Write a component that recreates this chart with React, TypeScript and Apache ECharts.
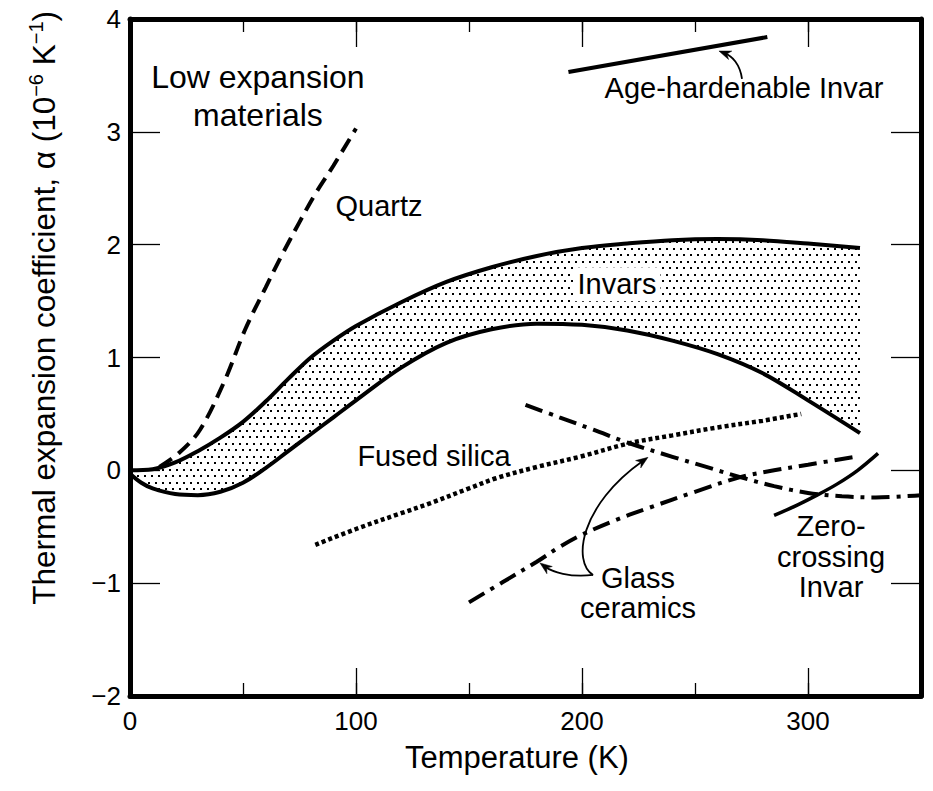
import React, { useEffect, useRef } from 'react';
import * as echarts from 'echarts';

const FONT = '"Liberation Sans", Arial, Helvetica, sans-serif';

// Invar band: upper and lower bounds (10^-6 K^-1) on their own temperature grids
const invarUpperK = [0, 10, 20, 30, 40, 50, 60, 70, 80, 90, 100, 120, 140, 160, 180, 200, 220, 240, 260, 280, 300, 323];
const invarUpperA = [0, 0.01, 0.07, 0.17, 0.29, 0.43, 0.61, 0.81, 1.0, 1.15, 1.28, 1.49, 1.67, 1.8, 1.9, 1.97, 2.01, 2.04, 2.05, 2.04, 2.01, 1.97];
const invarLowerK = [0, 5, 10, 20, 30, 40, 50, 60, 70, 80, 90, 100, 120, 140, 160, 180, 200, 220, 240, 260, 280, 300, 323];
const invarLowerA = [-0.03, -0.11, -0.16, -0.21, -0.22, -0.19, -0.11, 0.02, 0.17, 0.32, 0.47, 0.62, 0.91, 1.13, 1.25, 1.3, 1.29, 1.24, 1.15, 1.03, 0.86, 0.62, 0.33];

const quartzK = [13, 22, 31, 42, 51, 60, 67, 75, 82, 90, 100];
const quartzA = [0.03, 0.16, 0.36, 0.8, 1.25, 1.62, 1.9, 2.2, 2.45, 2.7, 3.03];

const ageHardK = [194, 282];
const ageHardA = [3.53, 3.84];

const fusedSilicaK = [82, 100, 120, 133, 150, 162, 180, 199, 221, 240, 260, 280, 297];
const fusedSilicaA = [-0.66, -0.52, -0.38, -0.29, -0.16, -0.07, 0.03, 0.12, 0.24, 0.31, 0.38, 0.44, 0.5];

const glassDownK = [175, 190, 205, 221, 240, 255, 270, 285, 300, 315, 330, 350];
const glassDownA = [0.58, 0.47, 0.36, 0.24, 0.12, 0.03, -0.06, -0.14, -0.2, -0.23, -0.24, -0.22];

const glassUpK = [150, 165, 180, 190, 200, 215, 230, 250, 270, 285, 300, 321];
const glassUpA = [-1.17, -0.99, -0.81, -0.68, -0.57, -0.44, -0.33, -0.19, -0.06, 0.0, 0.05, 0.12];

const zeroCrossK = [285, 295, 304, 313, 322, 331];
const zeroCrossA = [-0.4, -0.31, -0.22, -0.12, 0.0, 0.15];

const xTicks = { min: 0, max: 350, major: 100, minor: 50 };
const yTicks = { min: -2, max: 4, major: 1 };

// Annotation labels, anchored in data units (K, alpha)
const labels = [
  { text: 'Low expansion\nmaterials', k: 56.6, a: 3.32, size: 32, lh: 38 },
  { text: 'Quartz', k: 110.2, a: 2.34, size: 29, lh: 32 },
  { text: 'Invars', k: 215.5, a: 1.65, size: 29, lh: 32, boxed: true },
  { text: 'Age-hardenable Invar', k: 271.7, a: 3.39, size: 29, lh: 32 },
  { text: 'Fused silica', k: 134.5, a: 0.13, size: 29, lh: 32 },
  { text: 'Glass\nceramics', k: 224.8, a: -1.086, size: 29, lh: 30 },
  { text: 'Zero-\ncrossing\nInvar', k: 310.2, a: -0.768, size: 29, lh: 30.5 },
];

// Leader arrows as cubic curves in data units: start, control 1, control 2, tip
const arrows = [
  [[270.8, 3.469], [269.9, 3.601], [266.4, 3.672], [260.6, 3.716]],
  [[204.9, -0.927], [195.6, -0.812], [199.1, -0.309], [229.2, 0.115]],
  [[204.9, -0.927], [194.7, -0.953], [186.7, -0.9], [181.4, -0.821]],
];

const pairs = (xs: number[], ys: number[]) => xs.map((x, i) => [x, ys[i]]);

function dotPattern() {
  const c = document.createElement('canvas');
  c.width = 7;
  c.height = 13;
  const g = c.getContext('2d')!;
  g.fillStyle = '#000';
  g.fillRect(1, 1, 2, 2);
  g.fillRect(4, 7, 2, 2);
  return c;
}

// Catmull-Rom densification of screen points for the band outline
function smoothPath(pts: number[][], steps = 8) {
  const out: number[][] = [];
  for (let i = 0; i < pts.length - 1; i++) {
    const p0 = pts[Math.max(0, i - 1)];
    const p1 = pts[i];
    const p2 = pts[i + 1];
    const p3 = pts[Math.min(pts.length - 1, i + 2)];
    for (let s = 0; s < steps; s++) {
      const t = s / steps;
      const t2 = t * t;
      const t3 = t2 * t;
      const f = (a: number, b: number, c: number, d: number) =>
        0.5 * (2 * b + (-a + c) * t + (2 * a - 5 * b + 4 * c - d) * t2 + (-a + 3 * b - 3 * c + d) * t3);
      out.push([f(p0[0], p1[0], p2[0], p3[0]), f(p0[1], p1[1], p2[1], p3[1])]);
    }
  }
  out.push(pts[pts.length - 1]);
  return out;
}

const minus = (v: number) => (v < 0 ? '\u2212' + Math.abs(v) : String(v));

export default function App() {
  const ref = useRef<HTMLDivElement>(null);

  useEffect(() => {
    const el = ref.current!;
    const chart = echarts.init(el, null, { renderer: 'svg' });

    const black = '#000';
    const grid = { left: 130, right: 12, top: 19, bottom: 95 };

    const majorX = (position: 'top' | 'bottom', withLabels: boolean) => ({
      type: 'value',
      position,
      min: xTicks.min,
      max: xTicks.max,
      interval: xTicks.major,
      axisLine: { show: true, onZero: false, lineStyle: { color: black, width: 5 } },
      axisTick: { show: true, inside: true, length: 28, lineStyle: { color: black, width: 1.3 } },
      axisLabel: {
        show: withLabels,
        showMaxLabel: false,
        margin: 12,
        fontSize: 26,
        fontFamily: FONT,
        color: black,
      },
      splitLine: { show: false },
    });
    const minorX = (position: 'top' | 'bottom') => ({
      type: 'value',
      position,
      min: xTicks.min,
      max: xTicks.max,
      interval: xTicks.minor,
      axisLine: { show: false, onZero: false },
      axisTick: { show: true, inside: true, length: 13, lineStyle: { color: black, width: 1.3 } },
      axisLabel: { show: false },
      splitLine: { show: false },
    });
    const yAx = (position: 'left' | 'right', withLabels: boolean) => ({
      type: 'value',
      position,
      min: yTicks.min,
      max: yTicks.max,
      interval: yTicks.major,
      axisLine: { show: true, onZero: false, lineStyle: { color: black, width: 5 } },
      axisTick: { show: true, inside: true, length: 30, lineStyle: { color: black, width: 1.3 } },
      axisLabel: {
        show: withLabels,
        margin: 9,
        fontSize: 26,
        fontFamily: FONT,
        color: black,
        formatter: (v: number) => minus(v),
      },
      splitLine: { show: false },
    });

    const pattern = { image: dotPattern(), repeat: 'repeat', imageWidth: 7, imageHeight: 13 };

    const line = (name: string, data: number[][], lineStyle: any, extra: any = {}) => ({
      name,
      type: 'line',
      data,
      smooth: 0.35,
      symbol: 'none',
      silent: true,
      lineStyle: { color: black, ...lineStyle },
      ...extra,
    });

    chart.setOption({
      animation: false,
      backgroundColor: '#fff',
      grid,
      xAxis: [majorX('bottom', true), minorX('bottom'), majorX('top', false), minorX('top')],
      yAxis: [yAx('left', true), yAx('right', false)],
      series: [
        {
          name: 'Invar band',
          type: 'custom',
          silent: true,
          z: 1,
          data: [0],
          renderItem: (_params: any, api: any) => {
            const up = smoothPath(pairs(invarUpperK, invarUpperA).map((p) => api.coord(p)));
            const lo = smoothPath(pairs(invarLowerK, invarLowerA).map((p) => api.coord(p)));
            return {
              type: 'polygon',
              shape: { points: up.concat(lo.reverse()) },
              style: { fill: pattern, stroke: null },
            };
          },
        },
        line('Invar upper', pairs(invarUpperK, invarUpperA), { width: 4 }, { z: 4 }),
        line('Invar lower', pairs(invarLowerK, invarLowerA), { width: 4 }, { z: 4 }),
        line('Quartz', pairs(quartzK, quartzA), { width: 4, type: [15, 8] }),
        line('Age-hardenable Invar', pairs(ageHardK, ageHardA), { width: 4 }),
        line('Fused silica', pairs(fusedSilicaK, fusedSilicaA), { width: 4.5, type: [4, 3], cap: 'butt' }),
        line('Glass ceramic A', pairs(glassDownK, glassDownA), { width: 4, type: [18, 7, 4, 7] }),
        line('Glass ceramic B', pairs(glassUpK, glassUpA), { width: 4, type: [18, 7, 4, 7] }),
        line('Zero-crossing Invar', pairs(zeroCrossK, zeroCrossA), { width: 3.5 }),
      ],
    });

    const px = (p: number[]) => chart.convertToPixel({ xAxisIndex: 0, yAxisIndex: 0 }, p) as number[];
    const graphics: any[] = [];

    labels.forEach((l) => {
      const [x, y] = px([l.k, l.a]);
      graphics.push({
        type: 'text',
        x,
        y,
        silent: true,
        z: 10,
        style: {
          text: l.text,
          fontSize: l.size,
          fontFamily: FONT,
          fill: black,
          align: 'center',
          verticalAlign: 'middle',
          lineHeight: l.lh,
          backgroundColor: (l as any).boxed ? '#fff' : undefined,
          padding: (l as any).boxed ? [1, 4] : 0,
        },
      });
    });

    arrows.forEach((a) => {
      const p = a.map(px);
      const [x3, y3] = p[3];
      const dx = x3 - p[2][0];
      const dy = y3 - p[2][1];
      const len = Math.hypot(dx, dy) || 1;
      const ux = dx / len;
      const uy = dy / len;
      const L = 12;
      const W = 4.5;
      graphics.push({
        type: 'bezierCurve',
        silent: true,
        z: 10,
        shape: {
          x1: p[0][0], y1: p[0][1],
          cpx1: p[1][0], cpy1: p[1][1],
          cpx2: p[2][0], cpy2: p[2][1],
          x2: x3 - ux * 6, y2: y3 - uy * 6,
        },
        style: { stroke: black, lineWidth: 1.8, fill: null },
      });
      graphics.push({
        type: 'polygon',
        silent: true,
        z: 10,
        shape: {
          points: [
            [x3, y3],
            [x3 - ux * L - uy * W, y3 - uy * L + ux * W],
            [x3 - ux * L * 0.7, y3 - uy * L * 0.7],
            [x3 - ux * L + uy * W, y3 - uy * L - ux * W],
          ],
        },
        style: { fill: black, stroke: black, lineWidth: 0.5 },
      });
    });

    // Axis titles
    const [, yMid] = px([0, 1.44]);
    graphics.push({
      type: 'text',
      x: 44,
      y: yMid,
      rotation: Math.PI / 2,
      silent: true,
      style: {
        text: '{t|Thermal expansion coefficient, α (10}{s|\u22126}{t| K}{s|\u22121}{t|)}',
        align: 'center',
        verticalAlign: 'middle',
        fill: black,
        rich: {
          t: { fontSize: 31.5, fontFamily: FONT, fill: black, lineHeight: 36 },
          s: { fontSize: 20, fontFamily: FONT, fill: black, lineHeight: 16, verticalAlign: 'top' },
        },
      },
    });
    const [xMid] = px([171.2, 0]);
    graphics.push({
      type: 'text',
      x: xMid,
      y: 757,
      silent: true,
      style: {
        text: 'Temperature (K)',
        fontSize: 31,
        fontFamily: FONT,
        fill: black,
        align: 'center',
        verticalAlign: 'middle',
      },
    });

    chart.setOption({ graphic: graphics });

    return () => chart.dispose();
  }, []);

  return (
    <div
      ref={ref}
      style={{ position: 'fixed', left: 0, top: 0, width: 933, height: 791, background: '#fff' }}
    />
  );
}
